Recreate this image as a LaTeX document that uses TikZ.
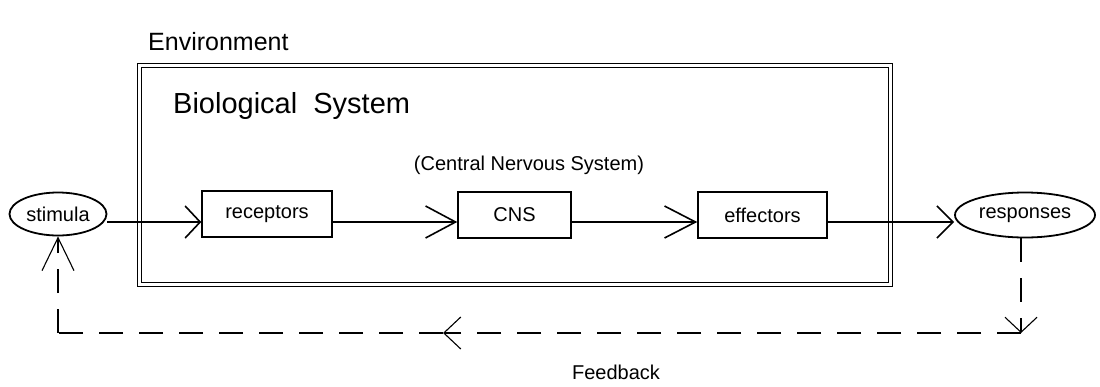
\documentclass[tikz,border=0pt]{standalone}
\usepackage{fontspec}
\setmainfont{Liberation Sans}
\usetikzlibrary{arrows.meta,shapes.geometric}
\begin{document}
\begin{tikzpicture}[x=1pt,y=-1pt,
  lbl/.style={font=\fontsize{20}{24}\selectfont, inner sep=0pt},
  blk/.style={draw, line width=1.5pt, minimum height=46pt, lbl},
  ell/.style={draw, ellipse, line width=1.8pt, lbl},
  conn/.style={line width=1.6pt},
  dashline/.style={line width=1.1pt, dash pattern=on 24pt off 16pt},
  arr/.style={-{Straight Barb[length=#1, width=32pt]}}
]
\useasboundingbox (0,0) rectangle (1100,386);
% titles
\node[anchor=base west, inner sep=0pt, font=\fontsize{25}{30}\selectfont] (env) at (148,50) {Environment};
% biological system double box
\node[draw, double, line width=0.9pt, double distance=3pt, minimum width=751pt, minimum height=219pt, inner sep=0pt] (bio) at (515,175) {};
\node[anchor=base west, inner sep=0pt, font=\fontsize{29}{34}\selectfont] (biolabel) at (173,113) {Biological\ \ System};
\node[lbl] (cnslabel) at (529,165) {(Central Nervous System)};
% elements
\node[ell, minimum width=97pt, minimum height=43pt] (stimula) at (58,214) {stimula};
\node[ell, minimum width=140pt, minimum height=45pt] (responses) at (1025,215) {responses};
\node[blk, minimum width=130pt] (receptors) at (267,214) {receptors};
\node[blk, minimum width=113pt] (cns) at (514.5,215) {CNS};
\node[blk, minimum width=129pt] (effectors) at (762.5,215) {effectors};
% main flow
\draw[conn, arr=15pt] ([yshift=-8pt]stimula.east) -- ([yshift=-8pt]receptors.west);
\draw[conn, arr=30pt] ([yshift=-8pt]receptors.east) -- ([yshift=-7pt]cns.west);
\draw[conn, arr=31pt] ([yshift=-7pt]cns.east) -- ([yshift=-7pt]effectors.west);
\draw[conn, arr=16pt] ([yshift=-7pt]effectors.east) -- ([yshift=-7pt]responses.west);
% feedback
\coordinate (fbR) at (1021,333);
\coordinate (fbM) at (443,333);
\coordinate (fbL) at (58,333);
\draw[dashline, arr=15pt] ([xshift=-4pt]responses.south) -- (fbR);
\draw[dashline, arr=17pt] (fbR) -- (fbM);
\draw[dashline] (fbM) -- (fbL);
\draw[dashline, arr=33pt] (fbL) -- (stimula.south);
\node[lbl] (fblabel) at (616,372) {Feedback};
\end{tikzpicture}
\end{document}
